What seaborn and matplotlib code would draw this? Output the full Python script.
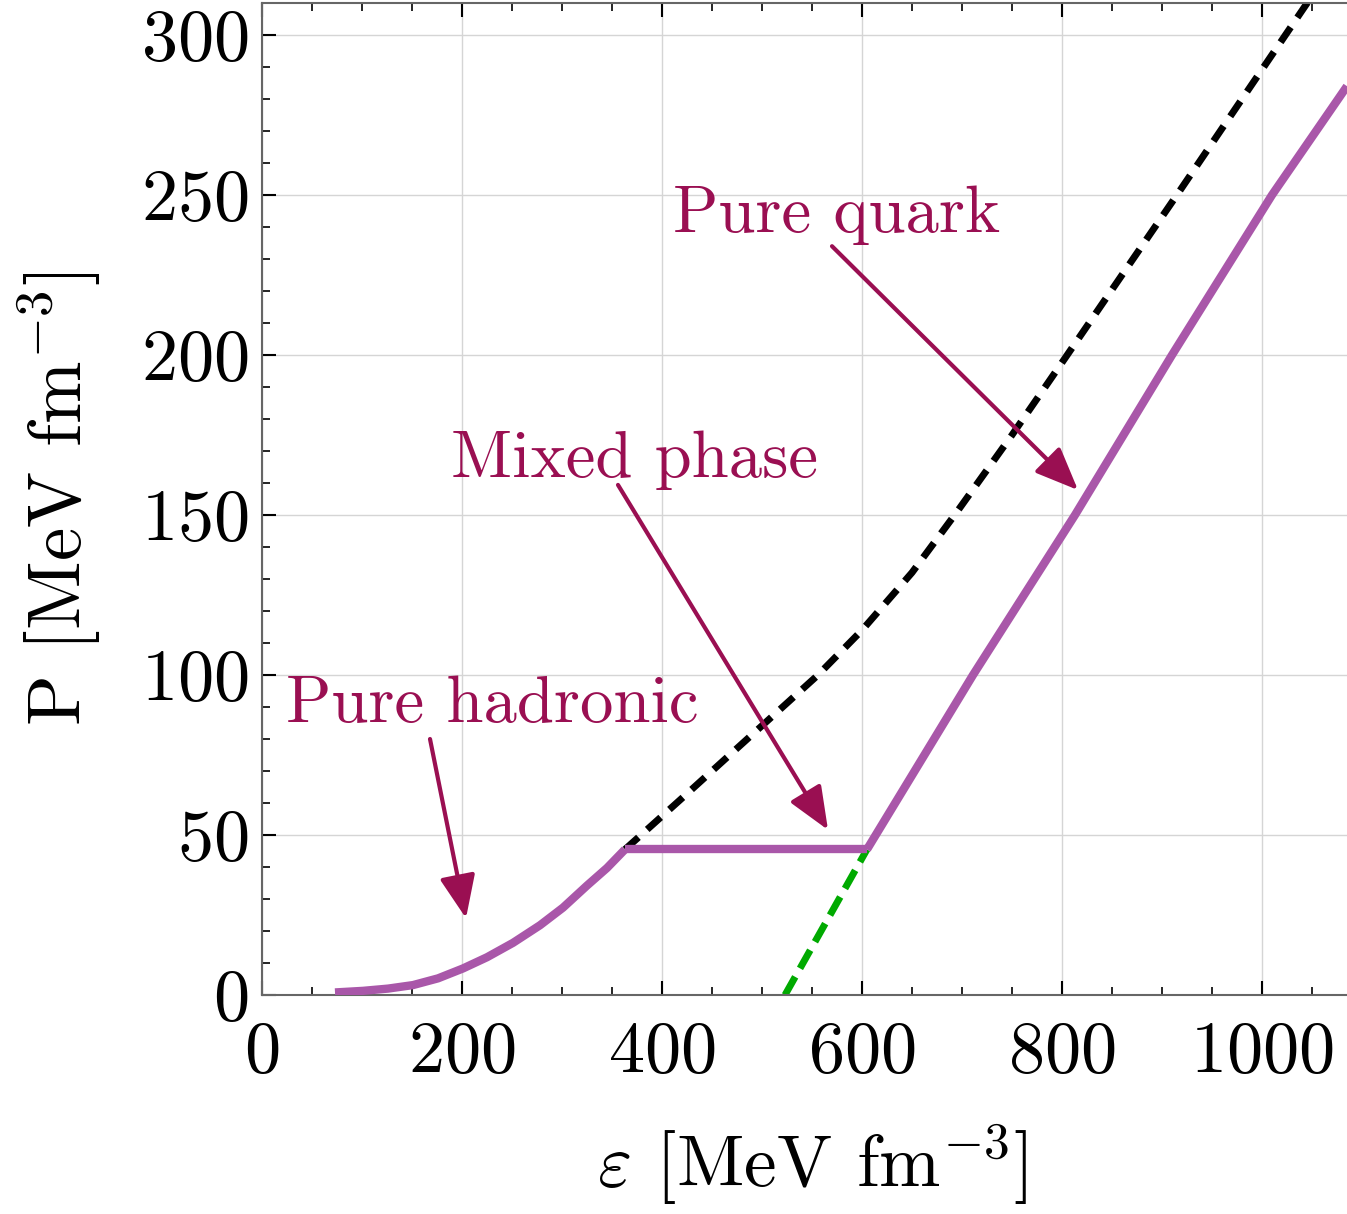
import numpy as np
import pandas as pd
import matplotlib
matplotlib.use("Agg")
import matplotlib.pyplot as plt
import seaborn as sns

# ---- data ----
hadronic_eps = [73, 101, 126, 151, 176, 201, 225, 251, 278, 301, 325, 345, 363]
hadronic_P = [0.8, 1.3, 2.0, 3.1, 5.2, 8.3, 11.8, 16.3, 21.8, 27.3, 34.2, 39.7, 45.5]

mixed_eps = [363, 605]
mixed_P = [45.5, 45.5]

quark_eps = [605, 711, 813, 910, 1010, 1085]
quark_P = [45.5, 100, 150, 200, 250, 284]

black_eps = [363, 420, 480, 556, 600, 650, 695, 750, 803, 860, 916, 980, 1043, 1100]
black_P = [45.5, 61.5, 78.5, 100, 114, 132, 151, 175, 199, 225, 250.5, 280, 309, 335]

green_eps = [523, 605]
green_P = [0, 45.5]

ann_text = ["Pure quark", "Mixed phase", "Pure hadronic"]
ann_text_xy = [(575, 238.4), (372.5, 161.9), (230, 85.3)]
ann_start = [(570, 234), (356, 159.4), (168, 80)]
ann_tip = [(816, 157.8), (566, 51.6), (204, 24)]

x_ticks = [0, 200, 400, 600, 800, 1000]
y_ticks = [0, 50, 100, 150, 200, 250, 300]

# ---- style ----
sns.set_theme(style="ticks")
plt.rcParams["font.family"] = "serif"
plt.rcParams["font.serif"] = ["cmr10"]
plt.rcParams["mathtext.fontset"] = "cm"
plt.rcParams["axes.formatter.use_mathtext"] = True
plt.rcParams["text.color"] = "black"
plt.rcParams["axes.labelcolor"] = "black"

purple = "#a957a9"
arrow_col = "#9a0f52"

W, H = 1347, 1214
fig = plt.figure(figsize=(W / 100, H / 100), dpi=100)
left_px, bottom_px, top_px = 262, 995, 3
xmax = 1100
ymax = (bottom_px - top_px) / 3.2
ax = fig.add_axes([left_px / W, (H - bottom_px) / H,
                   (xmax * 1.0) / W, (bottom_px - top_px) / H])

def df(x, y):
    return pd.DataFrame({"eps": x, "P": y})

sns.lineplot(data=df(black_eps, black_P), x="eps", y="P", ax=ax, color="black",
             lw=5, sort=False, zorder=2)
ax.lines[-1].set_dashes([2.6, 1.7])
sns.lineplot(data=df(green_eps, green_P), x="eps", y="P", ax=ax, color="#00aa00",
             lw=5, sort=False, zorder=2)
ax.lines[-1].set_dashes([3.0, 1.4])
for xs, ys in [(hadronic_eps, hadronic_P), (mixed_eps, mixed_P), (quark_eps, quark_P)]:
    sns.lineplot(data=df(xs, ys), x="eps", y="P", ax=ax, color=purple, lw=6,
                 sort=False, zorder=3)
for ln in ax.lines:
    ln.set_solid_capstyle("butt")
    ln.set_dash_capstyle("butt")

for t, (tx, ty), (sx, sy), (hx, hy) in zip(ann_text, ann_text_xy, ann_start, ann_tip):
    ax.text(tx, ty, t, color=arrow_col, fontsize=48, ha="center", va="baseline", zorder=5)
    ax.annotate("", xy=(hx, hy), xytext=(sx, sy),
                arrowprops=dict(arrowstyle="-|>,head_length=1.2,head_width=0.5",
                                color=arrow_col, lw=3, mutation_scale=22,
                                shrinkA=0, shrinkB=0), zorder=5)

ax.set_xlim(0, xmax)
ax.set_ylim(0, ymax)
ax.set_xticks(x_ticks)
ax.set_yticks(y_ticks)
ax.set_xticks(np.arange(0, xmax, 50), minor=True)
ax.set_yticks(np.arange(0, ymax, 10), minor=True)
ax.tick_params(which="both", direction="in", top=True, right=True, colors="black",
               labelsize=52)
ax.tick_params(which="major", length=10, width=1.5)
ax.tick_params(which="minor", length=6, width=1.2)
ax.tick_params(axis="x", pad=19)
ax.tick_params(axis="y", pad=10)
ax.grid(True, which="major", color="#d5d5d5", lw=1)
for s in ax.spines.values():
    s.set_color("#666666")
    s.set_linewidth(1.5)

ax.set_xlabel(r"$\varepsilon$ [MeV fm$^{-3}$]", fontsize=53, labelpad=26)
ax.set_ylabel(r"P [MeV fm$^{-3}$]", fontsize=54, labelpad=27)

fig.savefig("out.png", dpi=100)
